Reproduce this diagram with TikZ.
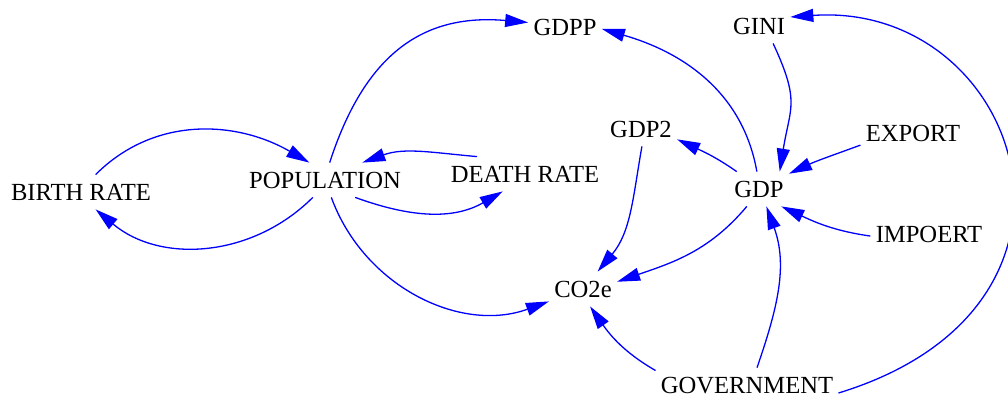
\documentclass[tikz,border=0pt]{standalone}
\usepackage{fontspec}
\setmainfont{Liberation Serif}
\usetikzlibrary{arrows.meta}

\begin{document}
\begin{tikzpicture}[
    x=0.5pt, y=0.5pt,
    var/.style={font=\fontsize{12.3}{14}\selectfont, inner xsep=2.5pt, inner ysep=0pt,
        minimum height=17pt, text height=8.2pt, text depth=0pt},
    link/.style={-{Triangle[length=11.5pt,width=6.5pt]}, draw=blue, line width=0.65pt}
]
    \useasboundingbox (0,0) rectangle (1008,-396);

    \node[var] (br) at (81,-192) {BIRTH RATE};
    \node[var] (pop) at (325,-180) {POPULATION};
    \node[var] (death) at (525,-174) {DEATH RATE};
    \node[var] (gdpp) at (565,-27) {GDPP};
    \node[var] (gini) at (759,-26) {GINI};
    \node[var] (gdptwo) at (641,-129) {GDP2};
    \node[var] (export) at (913,-133) {EXPORT};
    \node[var] (gdp) at (759,-189) {GDP};
    \node[var] (import) at (929,-234) {IMPOERT};
    \node[var] (co2) at (583,-289) {CO2e};
    \node[var] (gov) at (747,-385) {GOVERNMENT};

    % population loop
    \draw[link] (br.50) to[out=45, in=150] (pop.132);
    \draw[link] (pop.235) to[out=225, in=320] (br.310);
    \draw[link] (death.160) to[out=175, in=20] (pop.25);
    \draw[link] (pop.330) to[out=-20, in=210] (death.218);
    \draw[link] (pop.75) to[out=72, in=175, looseness=1.15] (gdpp.173);
    \draw[link] (pop.290) to[out=-70, in=200] (co2.200);

    % economy
    \draw[link] (gdp.97) to[out=100, in=-16] (gdpp.357);
    \draw[link] (gini.309) to[out=-65, in=81, looseness=1.3] (gdp.40);
    \draw[link] (export.193) to[out=200, in=25] (gdp.27);
    \draw[link] (gdp.142) to[out=145, in=-25] (gdptwo.344);
    \draw[link] (gdptwo.273) to[out=260, in=50] (co2.50);
    \draw[link] (gdp.235) to[out=230, in=19] (co2.12);
    \draw[link] (import.182) to[out=172, in=-25] (gdp.322);

    % government
    \draw[link] (gov.60) to[out=71, in=290] (gdp.293);
    \draw[link] (gov.171) to[out=150, in=305] (co2.292);
    \draw[link] (gov.355) .. controls +(17:300) and +(4:230) .. (gini.16);
\end{tikzpicture}
\end{document}
